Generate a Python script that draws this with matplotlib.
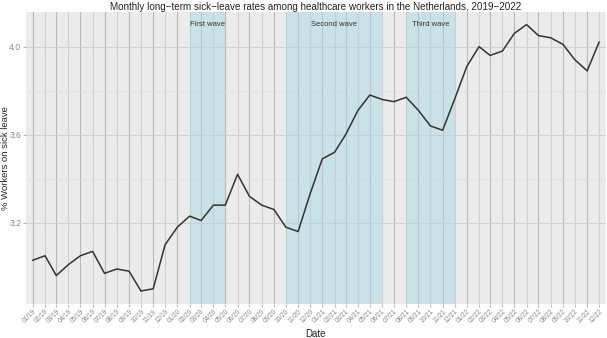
#!/usr/bin/env python3
"""Monthly long-term sick-leave rates among healthcare workers, NL 2019-2022."""
import matplotlib
matplotlib.use("Agg")
import matplotlib.pyplot as plt
import matplotlib.dates as mdates
import pandas as pd

# monthly values (Jan 2019 .. Dec 2022)
MONTHS = pd.date_range("2019-01-01", "2022-12-01", freq="MS")
SICK_LEAVE = [
    3.03, 3.05, 2.96, 3.01, 3.05, 3.07, 2.97, 2.99, 2.98, 2.89, 2.90, 3.10,
    3.18, 3.23, 3.21, 3.28, 3.28, 3.42, 3.32, 3.28, 3.26, 3.18, 3.16, 3.33,
    3.49, 3.52, 3.60, 3.71, 3.78, 3.76, 3.75, 3.77, 3.71, 3.64, 3.62, 3.76,
    3.91, 4.00, 3.96, 3.98, 4.06, 4.10, 4.05, 4.04, 4.01, 3.94, 3.89, 4.02,
]
WAVES = ["First wave", "Second wave", "Third wave"]
WAVE_START = ["2020-02-01", "2020-10-01", "2021-08-01"]
WAVE_END = ["2020-05-01", "2021-06-01", "2021-12-01"]
WAVE_LABEL_Y = 4.1

plt.rcParams["font.family"] = ["Liberation Sans", "DejaVu Sans"]

fig = plt.figure(figsize=(6.07, 3.38), dpi=100)
ax = fig.add_axes([0.043, 0.100, 0.955, 0.865])
ax.set_facecolor("#EBEBEB")
for s in ax.spines.values():
    s.set_visible(False)

# grid: alternating vertical month lines, major/minor horizontal lines
for i, m in enumerate(MONTHS):
    ax.axvline(m, color="#B8B8B8" if i % 2 == 0 else "#CFCFCF",
               lw=0.8, zorder=0.5)
for yv in [3.2, 3.6, 4.0]:
    ax.axhline(yv, color="#D2D2D2", lw=0.8, zorder=0.5)
for yv in [3.4, 3.8]:
    ax.axhline(yv, color="#DEDEDE", lw=0.5, zorder=0.5)

for name, a, b in zip(WAVES, WAVE_START, WAVE_END):
    a, b = pd.Timestamp(a), pd.Timestamp(b)
    ax.axvspan(a, b, color="#ADD8E6", alpha=0.5, lw=0, zorder=1)
    ax.text(a + (b - a) / 2, WAVE_LABEL_Y, name, ha="center", va="center",
            fontsize=5.5, color="#333333", zorder=3)

ax.plot(MONTHS, SICK_LEAVE, color="#333333", lw=1.1, zorder=2)

pad = pd.Timedelta(days=17)
ax.set_xlim(MONTHS[0] - pad, MONTHS[-1] + pad)
ax.set_ylim(2.83, 4.158)

ax.set_xticks(MONTHS)
ax.xaxis.set_major_formatter(mdates.DateFormatter("%m/%y"))
ax.set_yticks([3.2, 3.6, 4.0])
ax.set_yticklabels(["3.2", "3.6", "4.0"])
ax.tick_params(axis="x", labelsize=4.7, labelcolor="#888888", length=2,
               color="#BBBBBB", pad=1, labelrotation=45)
for lbl in ax.get_xticklabels():
    lbl.set_ha("right")
    lbl.set_rotation_mode("anchor")
ax.tick_params(axis="y", labelsize=6.2, labelcolor="#888888", length=2,
               color="#BBBBBB", pad=1.5)

ax.set_xlabel("Date", fontsize=7, color="#222222", labelpad=3)
fig.text(0.009, 0.532, "% Workers on sick leave", rotation=90,
         ha="center", va="center", fontsize=6.8, color="#222222")
fig.text(0.52, 0.994,
         "Monthly long\u2212term sick\u2212leave rates among healthcare "
         "workers in the Netherlands, 2019\u22122022",
         ha="center", va="top", fontsize=7.1, color="#222222")

fig.savefig("out.png", dpi=100)
